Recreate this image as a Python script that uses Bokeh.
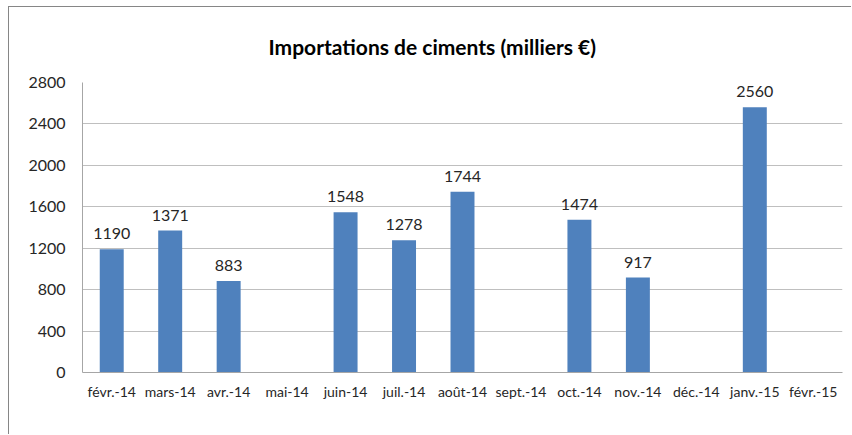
from bokeh.plotting import figure
from bokeh.models import ColumnDataSource, FixedTicker, LabelSet, Title, Range1d
from bokeh.core.properties import value
from bokeh.embed import file_html
from bokeh.resources import INLINE

categories = ["févr.-14", "mars-14", "avr.-14", "mai-14", "juin-14", "juil.-14",
              "août-14", "sept.-14", "oct.-14", "nov.-14", "déc.-14", "janv.-15", "févr.-15"]
values = [1190, 1371, 883, 0, 1548, 1278, 1744, 0, 1474, 917, 0, 2560, 0]
y_ticks = [0, 400, 800, 1200, 1600, 2000, 2400, 2800]
title_text = "Importations de ciments (milliers €)"

FONT = "Lato"
BAR = "#4F81BD"

src = ColumnDataSource(dict(cat=categories, val=values))
lab_cats = [c for c, v in zip(categories, values) if v > 0]
lab_vals = [v for v in values if v > 0]
lab_src = ColumnDataSource(dict(cat=lab_cats, val=lab_vals, txt=[str(v) for v in lab_vals]))

p = figure(x_range=categories, width=843, height=428, output_backend="svg",
           toolbar_location=None, min_border_left=73, min_border_right=10,
           min_border_top=73, min_border_bottom=63)
p.y_range = Range1d(0, 2800)
p.x_range.range_padding = 0

p.vbar(x="cat", top="val", width=0.41, source=src, color=BAR, line_color=None)

labels = LabelSet(x="cat", y="val", text="txt", source=lab_src, text_align="center",
                  text_baseline="bottom", y_offset=10, text_font=value(FONT),
                  text_font_size=value("16px"), text_color="#262626")
p.add_layout(labels)

p.title = Title(text=title_text, align="left", text_font=FONT, text_font_size="21px",
                text_font_style="bold", text_color="#000000", standoff=48, offset=186)

p.yaxis.ticker = FixedTicker(ticks=y_ticks)
p.yaxis.major_tick_line_color = None
p.yaxis.minor_tick_line_color = None
p.yaxis.axis_line_color = "#A6A6A6"
p.yaxis.major_label_text_font = FONT
p.yaxis.major_label_text_font_size = "16px"
p.yaxis.major_label_text_color = "#262626"
p.yaxis.major_label_standoff = 11

p.xaxis.major_tick_line_color = None
p.xaxis.axis_line_color = "#A6A6A6"
p.xaxis.major_label_text_font = FONT
p.xaxis.major_label_text_font_size = "14px"
p.xaxis.major_label_text_color = "#262626"
p.xaxis.major_label_standoff = 4

p.xgrid.grid_line_color = None
p.ygrid.grid_line_color = "#BFBFBF"
p.ygrid.ticker = FixedTicker(ticks=y_ticks)
p.outline_line_color = None
p.styles = {"margin-left": "8px", "margin-top": "6px",
            "border-left": "1px solid #868686", "border-top": "1px solid #868686"}

open("out.html", "w").write(file_html(p, INLINE))
